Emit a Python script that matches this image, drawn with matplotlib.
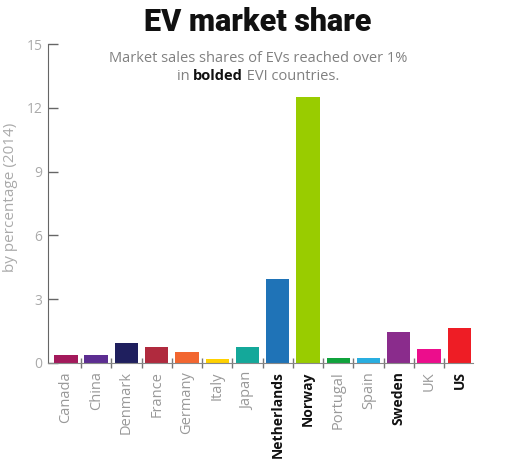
import matplotlib
matplotlib.use("Agg")
import matplotlib.pyplot as plt
from matplotlib.offsetbox import TextArea, HPacker, AnchoredOffsetbox

countries = ["Canada", "China", "Denmark", "France", "Germany", "Italy", "Japan",
             "Netherlands", "Norway", "Portugal", "Spain", "Sweden", "UK", "US"]
shares = [0.36, 0.36, 0.93, 0.73, 0.50, 0.17, 0.73, 3.93, 12.53, 0.23, 0.22, 1.44, 0.67, 1.63]
colors = ["#a3195b", "#5c2d91", "#1f1f5e", "#b02a3e", "#f26630", "#ffd100", "#14a89a",
          "#1f73b7", "#99cc00", "#10a33c", "#29aee0", "#8a2c8c", "#ec0d8c", "#ee1d25"]
bolded = {"Netherlands", "Norway", "Sweden", "US"}
yticks = [0, 3, 6, 9, 12, 15]

plt.rcParams['font.family'] = ['Open Sans', 'DejaVu Sans']

fig = plt.figure(figsize=(5.05, 4.59), dpi=100)
ax = fig.add_axes([48/505, 1 - 363/459, (473-48)/505, (363-44)/459])

x = list(range(len(countries)))
ax.bar(x, shares, width=0.77, color=colors, zorder=2)

ax.set_xlim(-0.59, 13.45)
ax.set_ylim(0, 15)
ax.set_yticks(yticks)
ax.set_yticklabels([str(v) for v in yticks], color="#aaaaaa", fontsize=10)
ax.tick_params(axis='y', direction='in', length=7, color="#666666", width=1, pad=4)

ax.set_xticks([i + 0.5 for i in range(len(countries) - 1)], minor=True)
ax.set_xticks(x)
ax.set_xticklabels(countries, rotation=90)
ax.tick_params(axis='x', which='major', length=0, pad=6)
ax.tick_params(axis='x', which='minor', direction='inout', length=7, color="#777777", width=1)
for lbl, c in zip(ax.get_xticklabels(), countries):
    if c in bolded:
        lbl.set_color("#111111")
        lbl.set_fontweight("bold")
        lbl.set_fontsize(10)
    else:
        lbl.set_color("#999999")
        lbl.set_fontsize(10.5)

for s in ["top", "right"]:
    ax.spines[s].set_visible(False)
ax.spines["left"].set_color("#666666")
ax.spines["bottom"].set_color("#888888")

ax.set_ylabel("by percentage (2014)", color="#aaaaaa", fontsize=11)
ax.yaxis.set_label_coords((18 - 48) / 425, 0.52)

fig.text(258/505, 1 - 22/459, "EV market share", ha="center", va="center",
         fontsize=22, fontweight="heavy", family=["Roboto", "DejaVu Sans"], color="#111111")
fig.text(258/505, 1 - 59/459, "Market sales shares of EVs reached over 1%",
         ha="center", va="center", fontsize=10.5, color="#808080")

t1 = TextArea("in ", textprops=dict(fontsize=10.5, color="#808080"))
t2 = TextArea("bolded", textprops=dict(fontsize=10.5, color="#111111", fontweight="bold"))
t3 = TextArea(" EVI countries.", textprops=dict(fontsize=10.5, color="#808080"))
box = HPacker(children=[t1, t2, t3], align="baseline", pad=0, sep=0)
ab = AnchoredOffsetbox(loc="center", child=box, frameon=False,
                       bbox_to_anchor=(258/505, 1 - 76/459), bbox_transform=fig.transFigure, pad=0, borderpad=0)
fig.add_artist(ab)

fig.savefig("out.png", dpi=100, facecolor="white")
